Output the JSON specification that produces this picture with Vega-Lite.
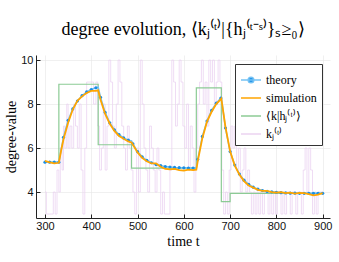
{
  "$schema": "https://vega.github.io/schema/vega-lite/v6.json",
  "width": 294,
  "height": 163,
  "autosize": "none",
  "padding": {"left": 36, "top": 55, "right": 9, "bottom": 44},
  "background": "white",
  "title": {"text": "degree evolution, ⟨kⱼ⁽ᵗ⁾|{hⱼ⁽ᵗ⁻ˢ⁾}ₛ≥₀⟩", "font": "Liberation Serif", "fontSize": 18, "fontWeight": "normal", "color": "black", "anchor": "middle", "offset": 15},
  "config": {
    "view": {"stroke": null},
    "axis": {"grid": true, "gridColor": "#e6e6e6", "gridWidth": 0.6, "domainColor": "#222", "tickColor": "#222", "tickSize": -4, "labelFont": "Liberation Sans", "labelFontSize": 11, "labelColor": "#111", "titleFont": "Liberation Serif", "titleFontSize": 14, "titleFontWeight": "normal", "titleColor": "black"}
  },
  "datasets": {
    "theory": [
      {"t":300,"v":5.36},{"t":310,"v":5.36},{"t":320,"v":5.36},{"t":330,"v":5.36},{"t":340,"v":6.49},{"t":350,"v":7.26},{"t":360,"v":7.78},{"t":370,"v":8.14},{"t":380,"v":8.38},{"t":390,"v":8.55},{"t":400,"v":8.66},{"t":410,"v":8.74},{"t":415,"v":8.77},{"t":420,"v":8.31},{"t":430,"v":7.62},{"t":440,"v":7.15},{"t":450,"v":6.83},{"t":460,"v":6.61},{"t":470,"v":6.46},{"t":480,"v":6.36},{"t":487,"v":6.32},{"t":490,"v":6.19},{"t":500,"v":5.84},{"t":510,"v":5.6},{"t":520,"v":5.44},{"t":530,"v":5.33},{"t":540,"v":5.25},{"t":550,"v":5.2},{"t":560,"v":5.16},{"t":570,"v":5.14},{"t":580,"v":5.12},{"t":590,"v":5.11},{"t":600,"v":5.1},{"t":610,"v":5.09},{"t":620,"v":5.09},{"t":627,"v":5.09},{"t":630,"v":5.49},{"t":640,"v":6.53},{"t":650,"v":7.23},{"t":660,"v":7.71},{"t":670,"v":8.04},{"t":680,"v":8.27},{"t":681,"v":8.29},{"t":690,"v":6.91},{"t":700,"v":5.84},{"t":710,"v":5.23},{"t":720,"v":4.82},{"t":730,"v":4.54},{"t":740,"v":4.35},{"t":750,"v":4.22},{"t":760,"v":4.13},{"t":770,"v":4.07},{"t":780,"v":4.03},{"t":790,"v":4.01},{"t":800,"v":3.99},{"t":810,"v":3.97},{"t":820,"v":3.96},{"t":830,"v":3.95},{"t":840,"v":3.95},{"t":850,"v":3.94},{"t":860,"v":3.94},{"t":870,"v":3.94},{"t":880,"v":3.94},{"t":890,"v":3.94},{"t":900,"v":3.94}
    ],
    "sim": [
      {"t":300,"v":5.42},{"t":310,"v":5.35},{"t":320,"v":5.3},{"t":330,"v":5.33},{"t":335,"v":5.9},{"t":340,"v":6.4},{"t":350,"v":7.15},{"t":360,"v":7.75},{"t":370,"v":8.15},{"t":380,"v":8.35},{"t":390,"v":8.5},{"t":400,"v":8.6},{"t":410,"v":8.6},{"t":415,"v":8.62},{"t":420,"v":8.2},{"t":430,"v":7.55},{"t":440,"v":7.1},{"t":450,"v":6.78},{"t":460,"v":6.55},{"t":470,"v":6.42},{"t":480,"v":6.3},{"t":487,"v":6.25},{"t":490,"v":6.15},{"t":500,"v":5.8},{"t":510,"v":5.55},{"t":520,"v":5.4},{"t":530,"v":5.3},{"t":540,"v":5.3},{"t":550,"v":5.15},{"t":560,"v":5.05},{"t":570,"v":5.03},{"t":580,"v":5.05},{"t":590,"v":5.0},{"t":600,"v":4.97},{"t":610,"v":5.02},{"t":620,"v":5.0},{"t":627,"v":5.02},{"t":630,"v":5.4},{"t":640,"v":6.45},{"t":650,"v":7.2},{"t":660,"v":7.65},{"t":670,"v":8.0},{"t":680,"v":8.22},{"t":681,"v":8.25},{"t":690,"v":6.95},{"t":700,"v":5.85},{"t":710,"v":5.2},{"t":720,"v":4.8},{"t":730,"v":4.5},{"t":740,"v":4.3},{"t":750,"v":4.2},{"t":760,"v":4.1},{"t":770,"v":4.05},{"t":780,"v":4.05},{"t":790,"v":4.0},{"t":800,"v":3.97},{"t":810,"v":4.0},{"t":820,"v":3.95},{"t":830,"v":3.97},{"t":840,"v":3.93},{"t":850,"v":3.96},{"t":860,"v":3.95},{"t":870,"v":3.9},{"t":880,"v":3.85},{"t":890,"v":3.88},{"t":900,"v":3.95}
    ],
    "green": [
      {"t":300,"v":5.36},{"t":330,"v":8.9},{"t":415,"v":6.15},{"t":487,"v":5.09},{"t":627,"v":8.74},{"t":681,"v":3.56},{"t":700,"v":3.94},{"t":900,"v":3.94}
    ],
    "pink": [
      {"t":300,"v":4},{"t":303,"v":3},{"t":310,"v":3},{"t":318,"v":4},{"t":322,"v":3},{"t":326,"v":5},{"t":330,"v":4},{"t":333,"v":6},{"t":337,"v":5},{"t":340,"v":7},{"t":343,"v":6},{"t":347,"v":8},{"t":350,"v":6},{"t":354,"v":7},{"t":358,"v":6},{"t":362,"v":8},{"t":366,"v":7},{"t":370,"v":6},{"t":374,"v":8},{"t":378,"v":5},{"t":382,"v":3},{"t":386,"v":6},{"t":390,"v":9},{"t":405,"v":8},{"t":410,"v":9},{"t":414,"v":7},{"t":418,"v":5},{"t":422,"v":6},{"t":426,"v":8},{"t":430,"v":5},{"t":434,"v":7},{"t":438,"v":10},{"t":442,"v":9},{"t":446,"v":7},{"t":450,"v":6},{"t":454,"v":8},{"t":458,"v":10},{"t":462,"v":9},{"t":466,"v":7},{"t":470,"v":6},{"t":474,"v":5},{"t":478,"v":7},{"t":482,"v":6},{"t":486,"v":5},{"t":490,"v":4},{"t":494,"v":3},{"t":498,"v":6},{"t":502,"v":4},{"t":506,"v":10},{"t":510,"v":8},{"t":514,"v":6},{"t":518,"v":5},{"t":522,"v":4},{"t":526,"v":7},{"t":530,"v":6},{"t":534,"v":5},{"t":538,"v":4},{"t":542,"v":6},{"t":546,"v":5},{"t":550,"v":3},{"t":554,"v":4},{"t":558,"v":3},{"t":570,"v":5},{"t":574,"v":10},{"t":578,"v":9},{"t":582,"v":7},{"t":586,"v":8},{"t":590,"v":10},{"t":594,"v":9},{"t":598,"v":7},{"t":602,"v":6},{"t":606,"v":8},{"t":610,"v":5},{"t":614,"v":7},{"t":618,"v":6},{"t":622,"v":4},{"t":626,"v":6},{"t":630,"v":8},{"t":634,"v":9},{"t":638,"v":10},{"t":642,"v":8},{"t":646,"v":9},{"t":650,"v":7},{"t":654,"v":10},{"t":658,"v":9},{"t":662,"v":10},{"t":666,"v":8},{"t":670,"v":9},{"t":674,"v":10},{"t":678,"v":9},{"t":682,"v":5},{"t":686,"v":3},{"t":690,"v":4},{"t":694,"v":3},{"t":698,"v":5},{"t":702,"v":7},{"t":706,"v":6},{"t":710,"v":7},{"t":714,"v":5},{"t":718,"v":6},{"t":722,"v":4},{"t":726,"v":5},{"t":730,"v":6},{"t":734,"v":4},{"t":738,"v":5},{"t":742,"v":4},{"t":746,"v":3},{"t":750,"v":4},{"t":754,"v":3},{"t":758,"v":4},{"t":762,"v":3},{"t":766,"v":4},{"t":770,"v":3},{"t":774,"v":4},{"t":782,"v":3},{"t":786,"v":4},{"t":790,"v":3},{"t":794,"v":4},{"t":798,"v":3},{"t":802,"v":4},{"t":810,"v":3},{"t":814,"v":4},{"t":818,"v":3},{"t":822,"v":4},{"t":830,"v":3},{"t":834,"v":4},{"t":842,"v":3},{"t":846,"v":4},{"t":854,"v":3},{"t":858,"v":5},{"t":862,"v":6},{"t":866,"v":4},{"t":870,"v":6},{"t":874,"v":5},{"t":878,"v":3},{"t":882,"v":4},{"t":886,"v":3},{"t":890,"v":4},{"t":900,"v":4}
    ]
  },
  "encoding": {
    "x": {"field": "t", "type": "quantitative", "scale": {"domain": [280.6, 915.8], "nice": false, "zero": false}, "axis": {"values": [300,400,500,600,700,800,900], "title": "time t", "labelPadding": 6, "titlePadding": 3}},
    "y": {"field": "v", "type": "quantitative", "scale": {"domain": [2.82, 10.23], "nice": false, "zero": false}, "axis": {"values": [4,6,8,10], "title": "degree-value", "labelPadding": 7, "titlePadding": 2}}
  },
  "layer": [
    {
      "data": {"name": "pink"},
      "transform": [{"calculate": "'kⱼ⁽ᵗ⁾'", "as": "series"}],
      "mark": {"type": "line", "interpolate": "step-after", "strokeWidth": 0.8, "clip": true},
      "encoding": {"color": {"field": "series", "type": "nominal"}}
    },
    {
      "data": {"name": "green"},
      "transform": [{"calculate": "'⟨k|hⱼ⁽ᵗ⁾⟩'", "as": "series"}],
      "mark": {"type": "line", "interpolate": "step-after", "strokeWidth": 1.2},
      "encoding": {"color": {"field": "series", "type": "nominal"}}
    },
    {
      "data": {"name": "theory"},
      "transform": [{"calculate": "'theory'", "as": "series"}],
      "mark": {"type": "line", "strokeWidth": 1.5},
      "encoding": {"color": {"field": "series", "type": "nominal"}}
    },
    {
      "data": {"name": "theory"},
      "transform": [{"filter": "datum.t % 10 == 0"}],
      "mark": {"type": "point", "filled": true, "size": 10, "color": "#1a8ee6", "opacity": 1},
      "encoding": {}
    },
    {
      "data": {"name": "sim"},
      "transform": [{"calculate": "'simulation'", "as": "series"}],
      "mark": {"type": "line", "strokeWidth": 1.8},
      "encoding": {
        "color": {"field": "series", "type": "nominal",
          "scale": {"domain": ["theory", "simulation", "⟨k|hⱼ⁽ᵗ⁾⟩", "kⱼ⁽ᵗ⁾"], "range": ["#74c2f4", "#ffa500", "#8ccb95", "#ebd3f1"]},
          "legend": {"orient": "none", "legendX": 199, "legendY": 9, "title": null, "strokeColor": "#333", "fillColor": "white", "padding": 5, "labelFont": "Liberation Serif", "labelFontSize": 12, "labelColor": "black", "symbolType": "stroke", "symbolSize": 400, "symbolStrokeWidth": 1.5, "rowPadding": 1, "labelOffset": 4,
            "encode": {"symbols": {"update": {"shape": {"signal": "datum.value === 'theory' ? 'M-1,0H1M0.28,0A0.28,0.28,0,1,1,-0.28,0A0.28,0.28,0,1,1,0.28,0' : 'M-1,0H1'"}, "fill": {"signal": "datum.value === 'theory' ? '#1a8ee6' : 'transparent'"}}}}}
        }
      }
    }
  ]
}
